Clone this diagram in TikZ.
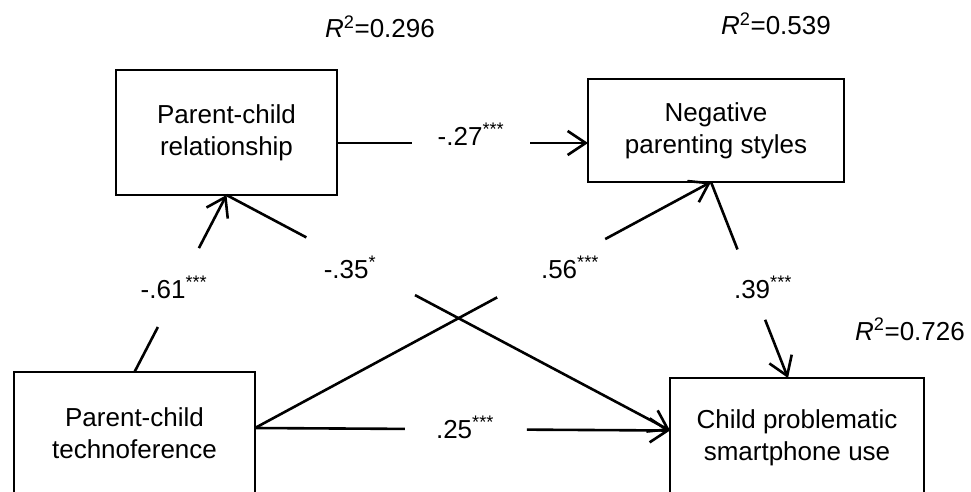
\documentclass[tikz,border=0pt]{standalone}
\usepackage{fontspec}
\setmainfont{Liberation Sans}
\usetikzlibrary{arrows.meta,calc}
\begin{document}
\begin{tikzpicture}[x=1pt,y=-1pt,line width=2.6pt,
  font=\fontsize{26}{32}\selectfont,
  box/.style={draw,line width=2.6pt,align=center,anchor=north west,inner sep=0pt,outer sep=0pt},
  arr/.style={-{Straight Barb[length=18pt,width=24pt]}},
  lab/.style={anchor=base,inner sep=0pt}]
\useasboundingbox (0,0) rectangle (971,492);
\fill[white] (0,0) rectangle (971,492);
% boxes
\node[box,minimum width=221pt,minimum height=125pt] (A) at (116,70) {Parent-child\\relationship};
\node[box,minimum width=256pt,minimum height=103pt] (B) at (588,79) {Negative\\parenting styles};
\node[box,minimum width=241pt,minimum height=123pt] (C) at (14,372) {Parent-child\\technoference};
\node[box,minimum width=254pt,minimum height=120pt] (D) at (670,378) {Child problematic\\smartphone use};
% R squared
\node[lab] (r1) at (380,38) {\textit{R}\textsuperscript{2}=0.296};
\node[lab] (r2) at (776,35) {\textit{R}\textsuperscript{2}=0.539};
\node[lab] (r3) at (910,340) {\textit{R}\textsuperscript{2}=0.726};
% connection points
\coordinate (ABs) at ($(A.east)+(0,10.5)$);
\coordinate (ABe) at ($(B.west)+(0,12.5)$);
\coordinate (Ce) at ($(C.east)+(0,-5.5)$);
\coordinate (Dw) at ($(D.west)+(0,-7.5)$);
\coordinate (Dn) at ($(D.north)+(-9,0)$);
\coordinate (Bs) at ($(B.south)+(-5,0)$);
% A -> B
\draw (ABs) -- ($(ABs)!0.299!(ABe)$);
\draw[arr] ($(ABs)!0.769!(ABe)$) -- (ABe);
\node[lab] (l27) at (471,145) {-.27\textsuperscript{***}};
% C -> D
\draw (Ce) -- ($(Ce)!0.361!(Dw)$);
\draw[arr] ($(Ce)!0.655!(Dw)$) -- (Dw);
\node[lab] (l25) at (465,438) {.25\textsuperscript{***}};
% C -> A
\draw (C.north) -- ($(C.north)!0.254!(A.south)$);
\draw[arr] ($(C.north)!0.70!(A.south)$) -- (A.south);
\node[lab] (l61) at (174,298) {-.61\textsuperscript{***}};
% A -> D
\draw (A.south) -- ($(A.south)!0.18!(Dw)$);
\draw[arr] ($(A.south)!0.425!(Dw)$) -- (Dw);
\node[lab] (l35) at (350,278) {-.35\textsuperscript{*}};
% C -> B
\draw (Ce) -- ($(Ce)!0.531!(Bs)$);
\draw[arr] ($(Ce)!0.768!(Bs)$) -- (Bs);
\node[lab] (l56) at (570,278) {.56\textsuperscript{***}};
% B -> D
\draw (Bs) -- ($(Bs)!0.344!(Dn)$);
\draw[arr] ($(Bs)!0.703!(Dn)$) -- (Dn);
\node[lab] (l39) at (763,298) {.39\textsuperscript{***}};
\end{tikzpicture}
\end{document}
